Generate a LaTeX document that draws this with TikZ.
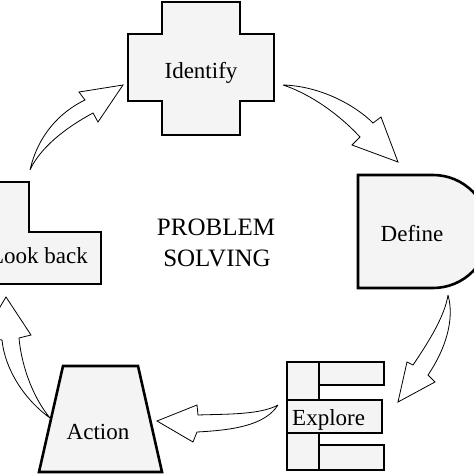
\documentclass[tikz,border=0pt]{standalone}
\usepackage{fontspec}
\setmainfont{Liberation Serif}
\definecolor{shapefill}{HTML}{F4F4F4}
\tikzset{
  stepshape/.style={draw,line width=2.6pt,fill=shapefill,line join=miter},
  blockarrow/.style={draw,line width=0.8pt,fill=white,line join=miter},
  shapetext/.style={font=\fontsize{23}{25}\selectfont,inner sep=0pt,anchor=base},
}
\begin{document}
\begin{tikzpicture}[x=1pt,y=-1pt]
        \useasboundingbox (0,0) rectangle (474,474);
        \clip (0,0) rectangle (474,474);

        \draw[blockarrow] (30,170)
        .. controls (38,135) and (60,112) .. (85,100)
        -- (79,92) -- (123,85) -- (98,122) -- (93,113)
        .. controls (65,128) and (40,148) .. (30,170);

        \draw[blockarrow] (283,85)
        .. controls (320,86) and (355,105) .. (373,123)
        -- (381,117) -- (398,162) -- (352,145) -- (360,137)
        .. controls (335,110) and (305,92) .. (283,85);

        \draw[blockarrow] (448,295)
        .. controls (455,320) and (445,350) .. (428,375)
        -- (435,382) -- (398,402) -- (407,362) -- (413,365)
        .. controls (430,340) and (445,315) .. (448,295);

        \draw[blockarrow] (278,405)
        .. controls (260,415) and (225,414) .. (198,415)
        -- (197,405) -- (157,421) -- (193,442) -- (197,432)
        .. controls (235,430) and (265,425) .. (278,405);

        \draw[blockarrow] (50,418)
        .. controls (25,400) and (5,370) .. (2,340)
        -- (-18,337) -- (6,297) -- (31,335) -- (19,338)
        .. controls (22,370) and (35,400) .. (50,418);

        \draw[stepshape] (162,2) -- (240,2) -- (240,34) -- (274,34)
        -- (274,101) -- (240,101) -- (240,135) -- (162,135)
        -- (162,101) -- (128,101) -- (128,34) -- (162,34) -- cycle;

        \draw[stepshape] (358,175) -- (433,175)
        .. controls (464,175) and (489,200) .. (489,231.5)
        .. controls (489,263) and (464,288) .. (433,288)
        -- (358,288) -- cycle;

        \draw[stepshape] (-30,182) -- (29,182) -- (29,232) -- (101,232)
        -- (101,284) -- (-30,284) -- cycle;

        \draw[stepshape] (287,362) rectangle (319,400);
        \draw[stepshape] (319,362) rectangle (384,385);
        \draw[stepshape] (287,433) rectangle (319,470);
        \draw[stepshape] (319,445) rectangle (384,470);
        \draw[stepshape] (287,400) rectangle (382,433);

        \draw[stepshape] (63,366) -- (138,366) -- (162,472) -- (39,472) -- cycle;

        \path
        (201,78) node[shapetext] (identify) {Identify}
        (412,241) node[shapetext] (define) {Define}
        (39,263) node[shapetext] (lookback) {Look back}
        (292,425) node[shapetext,anchor=base west] (explore) {Explore}
        (98,439) node[shapetext] (action) {Action}
        ;

        \path
        (216,235) node[shapetext,font=\fontsize{25}{27}\selectfont] (problem) {PROBLEM}
        (217,266) node[shapetext,font=\fontsize{25}{27}\selectfont] (solving) {SOLVING}
        ;
\end{tikzpicture}
\end{document}
